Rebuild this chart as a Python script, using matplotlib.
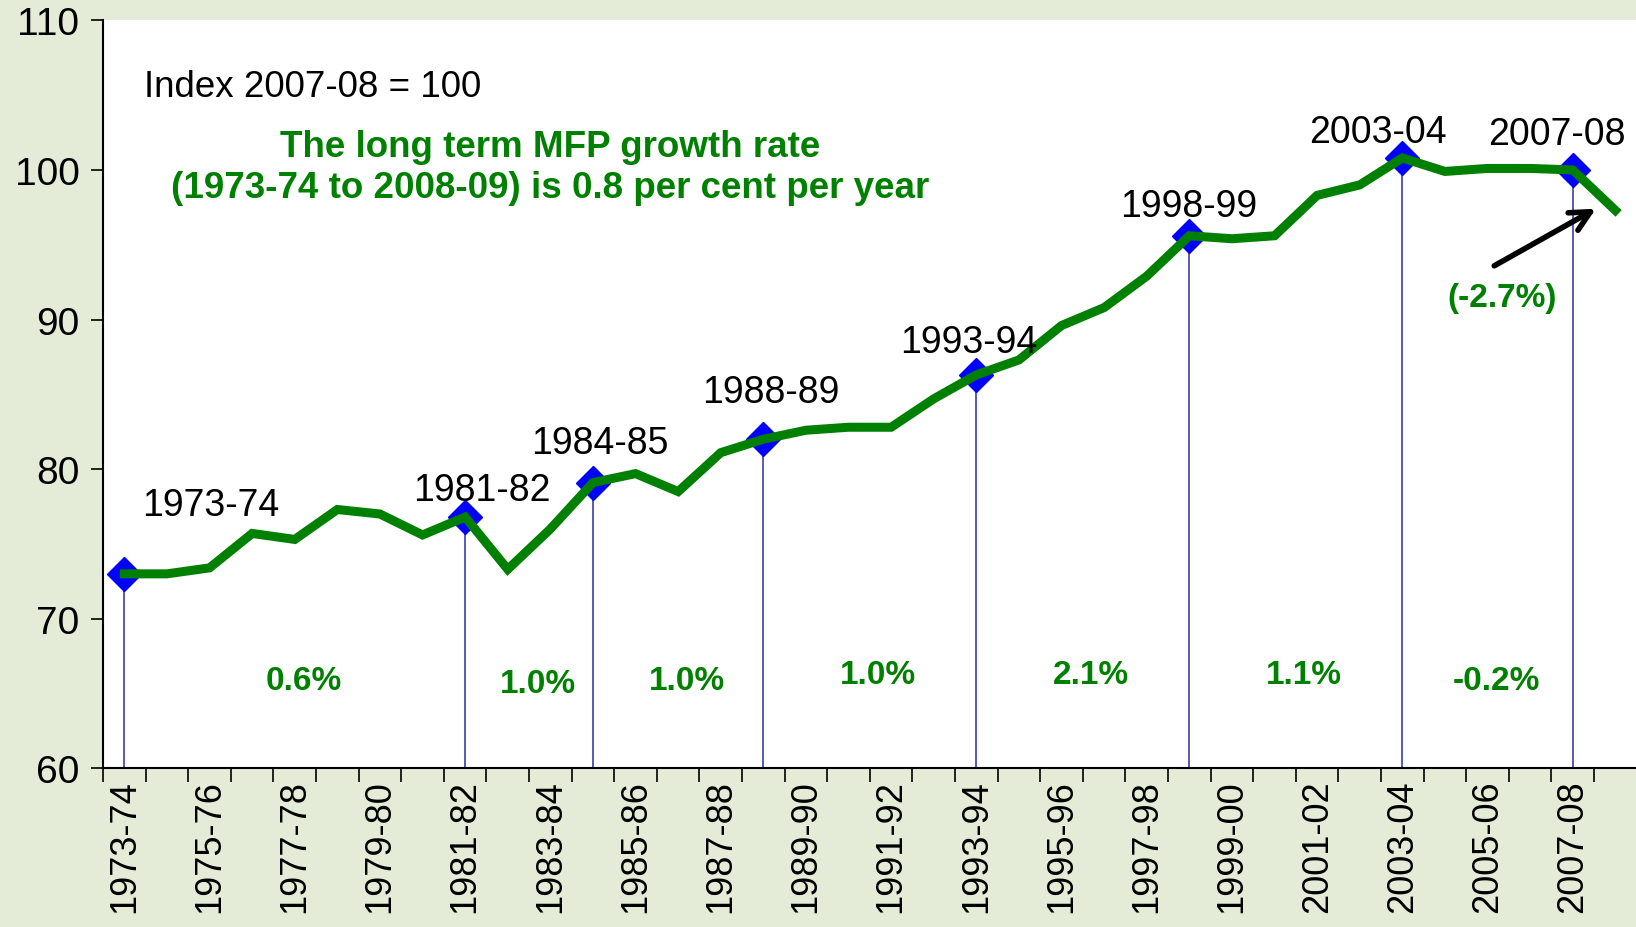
import matplotlib
matplotlib.use("Agg")
import matplotlib.pyplot as plt
from matplotlib import font_manager
import numpy as np

# Multifactor productivity index, 2007-08 = 100
years = [f"{y}-{str(y + 1)[-2:]}" for y in range(1973, 2009)]
mfp_index = [73.0, 73.0, 73.4, 75.7, 75.3, 77.3, 77.0, 75.6, 76.8, 73.3,
             76.0, 79.1, 79.7, 78.5, 81.1, 82.0, 82.6, 82.8, 82.8, 84.7,
             86.3, 87.3, 89.6, 90.8, 92.9, 95.6, 95.4, 95.6, 98.3, 99.0,
             100.8, 99.9, 100.1, 100.1, 100.0, 97.3]

# productivity cycle peaks
peaks = ["1973-74", "1981-82", "1984-85", "1988-89", "1993-94",
         "1998-99", "2003-04", "2007-08"]
cycle_growth = ["0.6%", "1.0%", "1.0%", "1.0%", "2.1%", "1.1%", "-0.2%"]
last_year_change = "(-2.7%)"

green = "#008000"
blue = "#0000FF"
bg = "#E4ECD7"

names = {f.name for f in font_manager.fontManager.ttflist}
plain = ["Liberation Sans", "DejaVu Sans"]
narrow = ["Liberation Sans Narrow", "Liberation Sans", "DejaVu Sans"]
narrow = [f for f in narrow if f in names] or ["DejaVu Sans"]
plt.rcParams["font.family"] = plain

fig = plt.figure(figsize=(16.36, 9.28), dpi=100, facecolor=bg)
ax = fig.add_axes([0.063, 0.171, 0.94, 0.806])
ax.set_facecolor("white")

x = np.arange(len(years))
peak_idx = [years.index(p) for p in peaks]
peak_vals = [mfp_index[i] for i in peak_idx]

# drop lines from peaks to the axis
ax.vlines(peak_idx, 60, peak_vals, color="#2B2BA8", lw=1.1, zorder=1)
ax.plot(peak_idx, peak_vals, "D", color=blue, ms=17, zorder=2)
ax.plot(x, mfp_index, color=green, lw=6.5, zorder=3, solid_joinstyle="miter")

label_offsets = [(86, 69), (17, 27), (7, 40), (7, 47), (-8, 33), (-1, 30), (-24, 26), (-16, 36)]
for i, p, off in zip(peak_idx, peaks, label_offsets):
    ax.annotate(p, (i, mfp_index[i]), xytext=off, textcoords="offset pixels",
                ha="center", va="center", fontsize=27, color="black", zorder=4)

rate_y = [65.9, 65.7, 65.9, 66.3, 66.3, 66.3, 65.9]
for k, txt in enumerate(cycle_growth):
    mid = (peak_idx[k] + peak_idx[k + 1]) / 2 + 0.2
    ax.text(mid, rate_y[k], txt, ha="center", va="center", fontsize=24,
            fontweight="bold", color=green, family=narrow)

ax.text(0.45, 105.6, "Index 2007-08 = 100", ha="left", va="center", fontsize=26.5)
ax.text(10.0, 100.2, "The long term MFP growth rate\n(1973-74 to 2008-09) is 0.8 per cent per year",
        ha="center", va="center", fontsize=26.5, fontweight="bold", color=green,
        family=narrow, linespacing=1.2)

n = len(years)
ax.annotate("", xy=(n - 1.4, mfp_index[-1] + 0.2), xytext=(n - 3.9, 93.5),
            arrowprops=dict(arrowstyle="->", lw=4, color="black", mutation_scale=36))
ax.text(n - 3.65, 91.5, last_year_change, ha="center", va="center", fontsize=24,
        fontweight="bold", color=green, family=narrow)

ax.set_xlim(-0.5, n - 0.4)
ax.set_ylim(60, 110)
ax.set_yticks(np.arange(60, 111, 10))
ax.tick_params(axis="y", labelsize=28, length=9, width=1.2, direction="out", pad=8)

# category axis: ticks between categories, labels every other year
ax.set_xticks(np.arange(-0.5, n, 1))
ax.set_xticklabels([])
ax.tick_params(axis="x", which="major", length=10, width=1.2, direction="out")
ax.set_xticks(x[::2], minor=True)
ax.set_xticklabels(years[::2], minor=True, rotation=90, fontsize=26)
ax.tick_params(axis="x", which="minor", length=0, pad=8)

for s in ["top", "right"]:
    ax.spines[s].set_visible(False)
for s in ["left", "bottom"]:
    ax.spines[s].set_linewidth(1.5)

fig.savefig("out.png", dpi=100, facecolor=bg)
